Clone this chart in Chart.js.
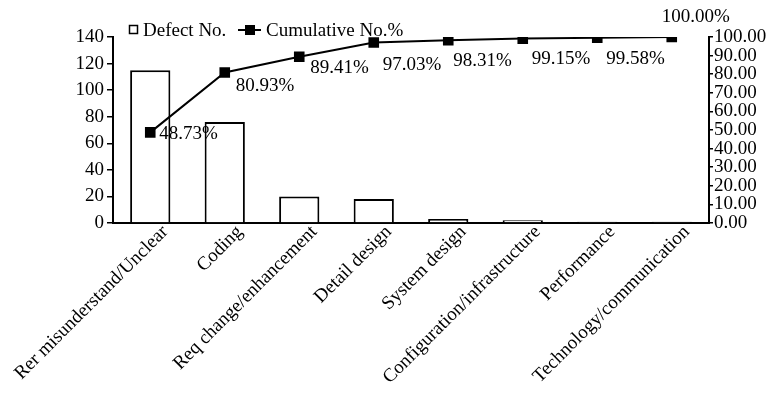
<!DOCTYPE html>
<html>
<head>
<meta charset="utf-8">
<script src="https://cdn.jsdelivr.net/npm/chart.js@4/dist/chart.umd.min.js"></script>
<style>
    body { margin: 0; background: #fff; }
    #wrap { width: 772px; height: 394px; position: relative; }
</style>
</head>
<body>
<div id="wrap"><canvas id="chart"></canvas></div>
<script>
const categories = [
    "Rer misunderstand/Unclear",
    "Coding",
    "Req change/enhancement",
    "Detail design",
    "System design",
    "Configuration/infrastructure",
    "Performance",
    "Technology/communication"
];
const defectNo = [115, 76, 20, 18, 3, 2, 1, 1];
const cumulativePct = [48.73, 80.93, 89.41, 97.03, 98.31, 99.15, 99.58, 100.00];
const leftTicks = [0, 20, 40, 60, 80, 100, 120, 140];
const rightTicks = [0, 10, 20, 30, 40, 50, 60, 70, 80, 90, 100];

const FONT = "Liberation Serif";

// label placement next to each cumulative point: [dx to left edge, dy to digit centre]
const labelOffsets = [[9, 0], [11, 12], [11, 10], [9, 21], [5, 19], [9, 19], [9, 20], [-10, -21.5]];

const pointLabels = {
    id: "pointLabels",
    afterDatasetsDraw(chart) {
        const ctx = chart.ctx;
        const meta = chart.getDatasetMeta(1);
        ctx.save();
        ctx.font = "19px '" + FONT + "'";
        ctx.fillStyle = "#000";
        ctx.textAlign = "left";
        ctx.textBaseline = "alphabetic";
        meta.data.forEach(function(pt, i) {
            const off = labelOffsets[i];
            ctx.fillText(cumulativePct[i].toFixed(2) + "%", pt.x + off[0], pt.y + off[1] + 6.5);
        });
        ctx.restore();
    }
};

const topLegend = {
    id: "topLegend",
    afterDraw(chart) {
        const ctx = chart.ctx;
        ctx.save();
        ctx.strokeStyle = "#000";
        ctx.fillStyle = "#000";
        ctx.lineWidth = 1.5;
        ctx.strokeRect(129.5, 25.5, 8, 8);
        ctx.lineWidth = 2;
        ctx.beginPath();
        ctx.moveTo(238, 30);
        ctx.lineTo(261, 30);
        ctx.stroke();
        ctx.fillRect(245, 25, 10, 10);
        ctx.font = "19px '" + FONT + "'";
        ctx.textBaseline = "alphabetic";
        ctx.fillText("Defect No.", 143, 35.5);
        ctx.fillText("Cumulative No.%", 266, 35.5);
        ctx.restore();
    }
};

new Chart(document.getElementById("chart"), {
    data: {
        labels: categories,
        datasets: [{
            type: "bar",
            label: "Defect No.",
            data: defectNo,
            yAxisID: "y",
            backgroundColor: "#fff",
            borderColor: "#000",
            borderWidth: { top: 2, left: 2, right: 2, bottom: 0 },
            borderSkipped: false,
            categoryPercentage: 1,
            barPercentage: 0.54,
            order: 2
        }, {
            type: "line",
            label: "Cumulative No.%",
            data: cumulativePct,
            yAxisID: "y1",
            borderColor: "#000",
            borderWidth: 2,
            backgroundColor: "#000",
            pointStyle: "rect",
            pointRadius: 7.5,
            pointBorderWidth: 0,
            tension: 0,
            order: 1
        }]
    },
    options: {
        responsive: true,
        maintainAspectRatio: false,
        animation: false,
        layout: { padding: { top: 37, left: 0, right: 0, bottom: 0 } },
        plugins: {
            legend: { display: false },
            tooltip: { enabled: false }
        },
        scales: {
            x: {
                offset: true,
                grid: { display: false, drawTicks: false },
                border: { display: true, color: "#000", width: 2 },
                ticks: {
                    color: "#000",
                    font: { family: FONT, size: 19 },
                    minRotation: 45,
                    maxRotation: 45,
                    autoSkip: false,
                    labelOffset: 15,
                    padding: -2
                },
                afterFit(scale) {
                    scale.height = 171;
                    scale.paddingLeft = 0;
                    scale.paddingRight = 0;
                }
            },
            y: {
                position: "left",
                min: 0,
                max: 140,
                afterBuildTicks(scale) { scale.ticks = leftTicks.map(v => ({ value: v })); },
                grid: { drawOnChartArea: false, drawTicks: true, tickLength: 6, color: "#000", lineWidth: 1.5 },
                border: { display: true, color: "#000", width: 2 },
                ticks: {
                    color: "#000",
                    font: { family: FONT, size: 19 },
                    padding: 3
                },
                afterFit(scale) { scale.width = 113; }
            },
            y1: {
                position: "right",
                min: 0,
                max: 100,
                afterBuildTicks(scale) { scale.ticks = rightTicks.map(v => ({ value: v })); },
                grid: { drawOnChartArea: false, drawTicks: true, tickLength: 4, color: "#000", lineWidth: 1.5 },
                border: { display: true, color: "#000", width: 2 },
                ticks: {
                    color: "#000",
                    font: { family: FONT, size: 19 },
                    padding: 1,
                    autoSkip: false,
                    callback: v => v.toFixed(2)
                },
                afterFit(scale) { scale.width = 63; }
            }
        }
    },
    plugins: [pointLabels, topLegend]
});
</script>
</body>
</html>
